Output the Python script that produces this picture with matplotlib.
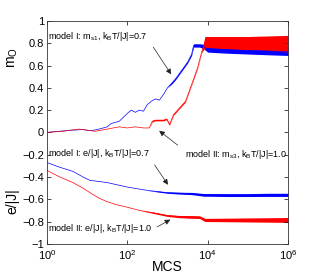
import matplotlib
matplotlib.use('Agg')
import matplotlib.pyplot as plt
import numpy as np

plt.rcParams['font.family'] = ['Liberation Sans', 'DejaVu Sans']
plt.rcParams['mathtext.fontset'] = 'custom'
plt.rcParams['mathtext.rm'] = 'Liberation Sans'
plt.rcParams['mathtext.it'] = 'Liberation Sans'

# log10(MCS) positions and values
blue_m_lx = [0, 0.3, 0.6, 0.9, 1.1, 1.3, 1.5, 1.6, 1.8, 2.0, 2.1, 2.2, 2.3, 2.4, 2.5, 2.6, 2.7, 2.8,
             2.9, 3.0, 3.1, 3.2, 3.3, 3.4, 3.5, 3.6, 3.65, 3.8, 3.9, 4.0, 4.5, 5.0, 5.5, 6.0]
blue_m = [0.0, 0.01, 0.02, 0.025, 0.015, 0.03, 0.05, 0.08, 0.1, 0.17, 0.2, 0.18, 0.2, 0.19, 0.25,
          0.28, 0.3, 0.29, 0.34, 0.4, 0.44, 0.48, 0.53, 0.58, 0.63, 0.7, 0.78, 0.78, 0.77, 0.75,
          0.74, 0.735, 0.73, 0.725]
blue_m_hw = [0.0] * 20 + [0.008] * 5 + [0.01, 0.015, 0.015, 0.02, 0.03, 0.03, 0.032, 0.034, 0.035]

red_m_lx = [0, 0.4, 0.8, 1.0, 1.2, 1.5, 1.8, 2.0, 2.2, 2.4, 2.55, 2.62, 2.7, 2.9, 2.98, 3.05, 3.15,
            3.25, 3.35, 3.45, 3.55, 3.65, 3.75, 3.85, 3.93, 4.0, 4.5, 5.0, 5.5, 6.0]
red_m = [0.0, 0.01, 0.03, 0.02, 0.01, 0.03, 0.05, 0.04, 0.05, 0.04, 0.04, 0.1, 0.11, 0.11, 0.12,
         0.07, 0.16, 0.2, 0.24, 0.28, 0.38, 0.48, 0.58, 0.72, 0.81, 0.81, 0.805, 0.8, 0.8, 0.795]
red_m_hw = [0.0] * 11 + [0.006] * 13 + [0.05, 0.05, 0.055, 0.06, 0.065, 0.075]

blue_e_lx = [0, 0.3, 0.65, 0.9, 1.07, 1.3, 1.5, 1.75, 2.0, 2.25, 2.5, 2.75, 3.0, 3.3, 3.6, 3.9,
             4.5, 5.0, 5.5, 6.0]
blue_e = [-0.27, -0.31, -0.35, -0.40, -0.43, -0.44, -0.45, -0.47, -0.49, -0.505, -0.52, -0.53,
          -0.54, -0.545, -0.548, -0.56, -0.562, -0.562, -0.56, -0.56]
blue_e_hw = [0.0] * 11 + [0.004, 0.006, 0.008, 0.01, 0.012, 0.013, 0.013, 0.014, 0.014]

red_e_lx = [0, 0.32, 0.65, 0.9, 1.07, 1.3, 1.49, 1.75, 1.99, 2.31, 2.64, 2.99, 3.3, 3.6, 3.8,
            3.93, 4.5, 5.0, 5.5, 6.0]
red_e = [-0.34, -0.40, -0.45, -0.50, -0.54, -0.59, -0.62, -0.65, -0.67, -0.70, -0.72, -0.745,
         -0.755, -0.758, -0.76, -0.785, -0.785, -0.785, -0.785, -0.785]
red_e_hw = [0.0] * 10 + [0.006, 0.008, 0.01, 0.012, 0.012, 0.014, 0.016, 0.018, 0.02, 0.022]

series = [
    (blue_m_lx, blue_m, blue_m_hw, 'b'),
    (red_m_lx, red_m, red_m_hw, 'r'),
    (blue_e_lx, blue_e, blue_e_hw, 'b'),
    (red_e_lx, red_e, red_e_hw, 'r'),
]

fig = plt.figure(figsize=(3.19, 2.75), dpi=100)
ax = fig.add_axes([0.147, 0.113, 0.756, 0.811])

for lx, v, hw, c in series:
    x = 10.0 ** np.array(lx)
    v = np.array(v)
    hw = np.array(hw)
    ax.plot(x, v, color=c, lw=0.5)
    ax.fill_between(x, v - hw, v + hw, color=c, lw=0)

ax.set_xscale('log')
ax.set_xlim(1, 1e6)
ax.set_ylim(-1, 1)
ax.set_xticks([1, 1e2, 1e4, 1e6])
ax.xaxis.set_minor_locator(matplotlib.ticker.NullLocator())
ax.set_yticks(np.arange(-1, 1.01, 0.2))
ax.set_yticklabels(['\u22121', '\u22120.8', '\u22120.6', '\u22120.4', '\u22120.2', '0',
                    '0.2', '0.4', '0.6', '0.8', '1'])
ax.tick_params(direction='in', length=3, width=0.5, labelsize=8, top=True, right=True, pad=2)
ax.tick_params(axis='x', pad=3)
for s in ax.spines.values():
    s.set_linewidth(0.6)
    s.set_color('#333333')

fs = 6.5
arrow = dict(arrowstyle='-|>', lw=0.5, color='#222222', mutation_scale=8)
ax.text(10 ** 0.03, 0.86, r'model I: m$_{s1}$, k$_B$T/|J|=0.7', fontsize=fs, va='center')
ax.annotate('', xy=(10 ** 3.13, 0.50), xytext=(10 ** 2.61, 0.785), arrowprops=arrow)
ax.text(10 ** 5.98, -0.2, r'model II: m$_{s3}$, k$_B$T/|J|=1.0', fontsize=fs, va='center',
        ha='right')
ax.annotate('', xy=(10 ** 2.74, 0.03), xytext=(10 ** 3.31, -0.13), arrowprops=arrow)
ax.text(10 ** 0.03, -0.19, r'model I: e/|J|, k$_B$T/|J|=0.7', fontsize=fs, va='center')
ax.annotate('', xy=(10 ** 3.05, -0.49), xytext=(10 ** 2.64, -0.27), arrowprops=arrow)
ax.text(10 ** 0.03, -0.86, r'model II: e/|J|, k$_B$T/|J|=1.0', fontsize=fs, va='center')
ax.annotate('', xy=(10 ** 3.13, -0.77), xytext=(10 ** 2.68, -0.86), arrowprops=arrow)

fig.text(167 / 319, 1 - 267 / 275, 'MCS', fontsize=10, ha='center', va='center')
fig.text(13 / 319, 1 - 58 / 275, r'm$_\mathrm{O}$', fontsize=10, ha='center', va='center',
         rotation=90)
fig.text(12 / 319, 1 - 201 / 275, 'e/|J|', fontsize=10, ha='center', va='center', rotation=90)

fig.savefig('out.png', dpi=100)
